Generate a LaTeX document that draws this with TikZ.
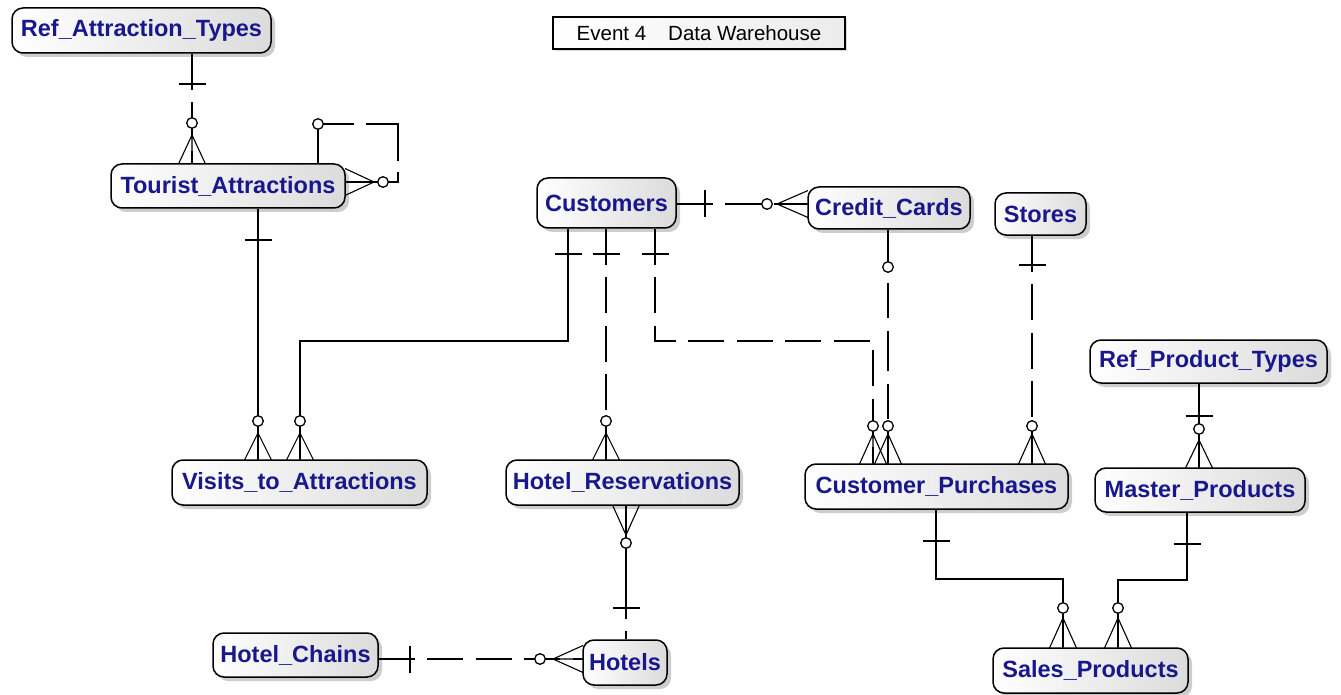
\documentclass[tikz,border=0pt]{standalone}
\usepackage{fontspec}
\setmainfont{Liberation Sans}
\usetikzlibrary{shadows}
\definecolor{entblue}{RGB}{24,24,140}
\newcommand\tkV[2]{\draw[tickln] ({#1-13.5},#2) -- ({#1+13.5},#2);}
\newcommand\tkH[2]{\draw[tickln] (#1,{#2-13.5}) -- (#1,{#2+13.5});}
\newcommand\oc[2]{\draw[ocirc] (#1,#2) circle[radius=5.3pt];}
\newcommand\crV[3]{\draw[crowln] ({#1-13.5},#3) -- (#1,#2) -- ({#1+13.5},#3) (#1,#2) -- (#1,#3);}
\newcommand\crH[3]{\draw[crowln] (#2,{#3-13.5}) -- (#1,#3) -- (#2,{#3+13.5}) (#1,#3) -- (#2,#3);}
\begin{document}
\begin{tikzpicture}[x=1pt,y=-1pt,
 entity/.style={draw, line width=1.5pt, rounded corners=11pt, left color=white, right color=gray!28,
   drop shadow={shadow xshift=4pt, shadow yshift=-4pt, fill=gray!60, opacity=0.65},
   text=entblue, font=\bfseries\fontsize{23.5}{26}\selectfont, inner sep=0pt},
 conn/.style={line width=1.6pt},
 nonid/.style={conn, dash pattern=on 36pt off 12.5pt},
 tickln/.style={line width=1.6pt},
 ocirc/.style={line width=1.3pt, fill=white},
 crowln/.style={line width=1.1pt}]
\useasboundingbox (0,0) rectangle (1341,695);

% title
\node[draw, line width=1.5pt, left color=white, right color=gray!15, minimum width=292pt, minimum height=32pt,
  inner sep=0pt, font=\fontsize{20.5}{23}\selectfont,
  drop shadow={shadow xshift=2pt, shadow yshift=-2pt, fill=gray!60}] (title) at (699,33) {Event 4\hspace{22pt}Data Warehouse};

% entities
\node[entity, minimum width=259pt, minimum height=45pt] (rat) at (141.5,30.5) {Ref\_Attraction\_Types};
\node[entity, minimum width=234pt, minimum height=44pt] (ta) at (228,186) {Tourist\_Attractions};
\node[entity, minimum width=139pt, minimum height=50pt] (cust) at (606.5,203) {Customers};
\node[entity, minimum width=162pt, minimum height=42pt] (cc) at (889,208) {Credit\_Cards};
\node[entity, minimum width=91pt, minimum height=42pt] (st) at (1040.5,214) {Stores};
\node[entity, minimum width=255pt, minimum height=45pt] (vis) at (299.5,482.5) {Visits\_to\_Attractions};
\node[entity, minimum width=233pt, minimum height=45pt] (hr) at (622.5,482.5) {Hotel\_Reservations};
\node[entity, minimum width=263pt, minimum height=45pt] (cp) at (936.5,486.5) {Customer\_Purchases};
\node[entity, minimum width=237pt, minimum height=43pt] (rpt) at (1208.5,361.5) {Ref\_Product\_Types};
\node[entity, minimum width=210pt, minimum height=44pt] (mp) at (1200,490) {Master\_Products};
\node[entity, minimum width=165pt, minimum height=44pt] (hc) at (295.5,655) {Hotel\_Chains};
\node[entity, minimum width=84pt, minimum height=45pt] (ho) at (625,662.5) {Hotels};
\node[entity, minimum width=195pt, minimum height=45pt] (sp) at (1090.5,670.5) {Sales\_Products};

% connectors
\draw[nonid] (rat.south -| 192,0) -- (ta.north -| 192,0);
\draw[conn, dash pattern=on 75pt off 12pt on 69pt off 11pt on 200pt off 1pt] (ta.north -| 318,0) -- (318,124) -- (398,124) -- (398,182) -- (ta.east |- 0,182);
\draw[conn] (ta.south -| 258,0) -- (vis.north -| 258,0);
\draw[conn] (cust.south -| 568,0) -- (568,341) -| (vis.north -| 300,0);
\draw[nonid] (cust.south -| 606,0) -- (hr.north -| 606,0);
\draw[nonid] (cust.south -| 655,0) -- (655,341) -| (cp.north -| 873,0);
\draw[nonid] (cust.east |- 0,204) -- (cc.west |- 0,204);
\draw[conn, dash pattern=on 40pt off 13pt on 35pt off 13pt] (cc.south -| 888,0) -- (cp.north -| 888,0);
\draw[nonid] (st.south -| 1032,0) -- (cp.north -| 1032,0);
\draw[conn] (rpt.south -| 1199,0) -- (mp.north -| 1199,0);
\draw[conn] (cp.south -| 936,0) -- (936,579) -| (sp.north -| 1063,0);
\draw[conn] (mp.south -| 1187,0) -- (1187,580) -| (sp.north -| 1118,0);
\draw[conn, dash pattern=on 8pt off 12pt on 400pt off 1pt] (ho.north -| 626,0) -- (hr.south -| 626,0);
\draw[nonid] (hc.east |- 0,659) -- (ho.west |- 0,659);

% cardinality marks
\tkV{192}{84} \oc{192}{123} \crV{192}{135}{164}
\oc{318}{124} \oc{383}{182} \crH{374}{345}{182}
\tkV{258}{240} \oc{258}{421} \crV{258}{433}{460}
\tkV{568}{254} \oc{300}{421} \crV{300}{433}{460}
\tkV{606}{254} \oc{606}{421} \crV{606}{433}{460}
\tkV{655}{254} \oc{873}{426} \crV{873}{434}{464}
\tkH{705}{204} \oc{767}{204} \crH{777}{808}{204}
\oc{888}{267} \oc{888}{426} \crV{888}{434}{464}
\tkV{1032}{265} \oc{1032}{426} \crV{1032}{434}{464}
\tkV{1199}{416} \oc{1199}{429} \crV{1199}{440}{468}
\tkV{936}{541} \oc{1063}{608} \crV{1063}{618}{648}
\tkV{1187}{544} \oc{1118}{608} \crV{1118}{618}{648}
\tkV{626}{608} \oc{626}{543} \crV{626}{535}{505}
\tkH{410}{659} \oc{540}{659} \crH{553}{583}{659}
\end{tikzpicture}
\end{document}
